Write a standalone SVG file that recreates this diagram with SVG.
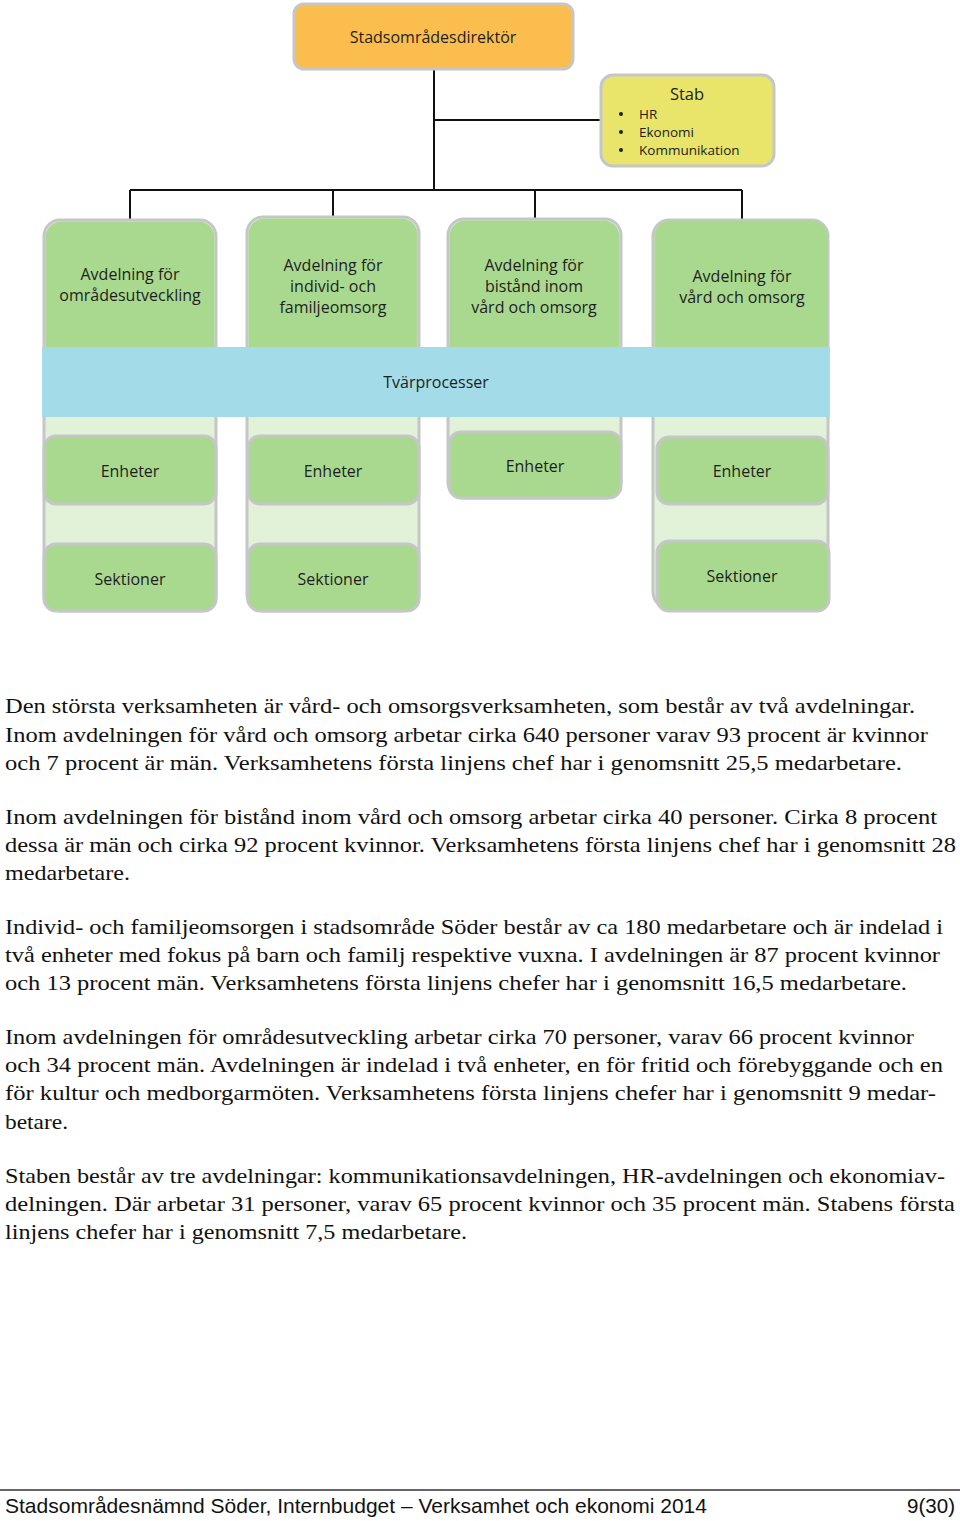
<svg xmlns="http://www.w3.org/2000/svg" width="960" height="1521" viewBox="0 0 960 1521">
<style>
.box{stroke:#c5c6c8;stroke-width:3}
.org{fill:#fbbe4e}
.stab{fill:#e8e56a}
.grn{fill:#a9d98f}
.lt{fill:#e2f2d9}
.band{fill:#a3dce8}
.lbl{font-family:"Open Sans","Noto Sans",sans-serif;font-size:16px;fill:#1e1e1e;text-anchor:middle}
.sm{font-family:"Open Sans","Noto Sans",sans-serif;font-size:13.5px;fill:#1e1e1e}
.con{stroke:#111;stroke-width:2;fill:none}
.body{font-family:"Liberation Serif","Times New Roman",serif;font-size:21px;fill:#111}
.foot{font-family:"Liberation Sans",Arial,sans-serif;font-size:21px;fill:#111}
</style>
<rect width="960" height="1521" fill="#fff"/>
<g id="connectors">
<path class="con" d="M434 70V190M434 120H600M130 190H742M130 190V220M333 190V217M535 190V219M742 190V219"/>
</g>
<g id="director">
<rect class="box org" x="294" y="4" width="279" height="65" rx="10"/>
<text class="lbl" x="433" y="43">Stadsområdesdirektör</text>
</g>
<g id="stab">
<rect class="box stab" x="601" y="75" width="173" height="91" rx="12"/>
<text class="lbl" x="687" y="100" style="font-size:16.5px">Stab</text>
<g class="sm">
<circle cx="621" cy="114" r="2" fill="#1e1e1e"/>
<circle cx="621" cy="132" r="2" fill="#1e1e1e"/>
<circle cx="621" cy="150" r="2" fill="#1e1e1e"/>
<text x="639" y="119">HR</text>
<text x="639" y="137">Ekonomi</text>
<text x="639" y="155">Kommunikation</text>
</g>
</g>
<g id="col1">
<rect class="box lt" x="44" y="220" width="172" height="391" rx="16"/>
<path class="grn" d="M45.5 347V238a16 16 0 0 1 16-16.5h137a16 16 0 0 1 16 16.5V347z"/>
<text class="lbl" x="130" y="280">Avdelning för</text>
<text class="lbl" x="130" y="301">områdesutveckling</text>
</g>
<g id="col2">
<rect class="box lt" x="247" y="217" width="172" height="394" rx="16"/>
<path class="grn" d="M248.5 347V235a16 16 0 0 1 16-16.5h137a16 16 0 0 1 16 16.5V347z"/>
<text class="lbl" x="333" y="271">Avdelning för</text>
<text class="lbl" x="333" y="292">individ- och</text>
<text class="lbl" x="333" y="313">familjeomsorg</text>
</g>
<g id="col3">
<rect class="box lt" x="448" y="219" width="173" height="279" rx="16"/>
<path class="grn" d="M449.5 347V237a16 16 0 0 1 16-16.5h138a16 16 0 0 1 16 16.5V347z"/>
<text class="lbl" x="534" y="271">Avdelning för</text>
<text class="lbl" x="534" y="292">bistånd inom</text>
<text class="lbl" x="534" y="313">vård och omsorg</text>
</g>
<g id="col4">
<rect class="box lt" x="653" y="220" width="175" height="388" rx="16"/>
<path class="grn" d="M654.5 347V237a16 16 0 0 1 16-16.5h141a16 16 0 0 1 16 16.5V347z"/>
<text class="lbl" x="742" y="282">Avdelning för</text>
<text class="lbl" x="742" y="303">vård och omsorg</text>
</g>
<g id="tvarprocesser">
<rect class="band" x="42" y="347" width="788" height="70"/>
<text class="lbl" x="436" y="388">Tvärprocesser</text>
</g>
<g id="enheter1">
<rect class="box grn" x="44" y="436" width="172" height="68" rx="12"/>
<text class="lbl" x="130" y="477">Enheter</text>
</g>
<g id="sektioner1">
<rect class="box grn" x="44" y="544" width="172" height="67" rx="12"/>
<text class="lbl" x="130" y="585">Sektioner</text>
</g>
<g id="enheter2">
<rect class="box grn" x="248" y="436" width="171" height="68" rx="12"/>
<text class="lbl" x="333" y="477">Enheter</text>
</g>
<g id="sektioner2">
<rect class="box grn" x="248" y="544" width="171" height="67" rx="12"/>
<text class="lbl" x="333" y="585">Sektioner</text>
</g>
<g id="enheter3">
<rect class="box grn" x="449" y="432" width="172" height="66" rx="12"/>
<text class="lbl" x="535" y="472">Enheter</text>
</g>
<g id="enheter4">
<rect class="box grn" x="657" y="437" width="171" height="67" rx="12"/>
<text class="lbl" x="742" y="477">Enheter</text>
</g>
<g id="sektioner4">
<rect class="box grn" x="657" y="541" width="172" height="70" rx="12"/>
<text class="lbl" x="742" y="582">Sektioner</text>
</g>
<g id="text" class="body">
<text x="5" y="713" textLength="910" lengthAdjust="spacingAndGlyphs">Den största verksamheten är vård- och omsorgsverksamheten, som består av två avdelningar.</text>
<text x="5" y="742" textLength="923" lengthAdjust="spacingAndGlyphs">Inom avdelningen för vård och omsorg arbetar cirka 640 personer varav 93 procent är kvinnor</text>
<text x="5" y="770" textLength="897" lengthAdjust="spacingAndGlyphs">och 7 procent är män. Verksamhetens första linjens chef har i genomsnitt 25,5 medarbetare.</text>
<text x="5" y="824" textLength="932" lengthAdjust="spacingAndGlyphs">Inom avdelningen för bistånd inom vård och omsorg arbetar cirka 40 personer. Cirka 8 procent</text>
<text x="5" y="852" textLength="951" lengthAdjust="spacingAndGlyphs">dessa är män och cirka 92 procent kvinnor. Verksamhetens första linjens chef har i genomsnitt 28</text>
<text x="5" y="880" textLength="125" lengthAdjust="spacingAndGlyphs">medarbetare.</text>
<text x="5" y="934" textLength="938" lengthAdjust="spacingAndGlyphs">Individ- och familjeomsorgen i stadsområde Söder består av ca 180 medarbetare och är indelad i</text>
<text x="5" y="962" textLength="935" lengthAdjust="spacingAndGlyphs">två enheter med fokus på barn och familj respektive vuxna. I avdelningen är 87 procent kvinnor</text>
<text x="5" y="990" textLength="902" lengthAdjust="spacingAndGlyphs">och 13 procent män. Verksamhetens första linjens chefer har i genomsnitt 16,5 medarbetare.</text>
<text x="5" y="1044" textLength="909" lengthAdjust="spacingAndGlyphs">Inom avdelningen för områdesutveckling arbetar cirka 70 personer, varav 66 procent kvinnor</text>
<text x="5" y="1072" textLength="938" lengthAdjust="spacingAndGlyphs">och 34 procent män. Avdelningen är indelad i två enheter, en för fritid och förebyggande och en</text>
<text x="5" y="1100" textLength="931" lengthAdjust="spacingAndGlyphs">för kultur och medborgarmöten. Verksamhetens första linjens chefer har i genomsnitt 9 medar-</text>
<text x="5" y="1129" textLength="63" lengthAdjust="spacingAndGlyphs">betare.</text>
<text x="5" y="1183" textLength="940" lengthAdjust="spacingAndGlyphs">Staben består av tre avdelningar: kommunikationsavdelningen, HR-avdelningen och ekonomiav-</text>
<text x="5" y="1211" textLength="950" lengthAdjust="spacingAndGlyphs">delningen. Där arbetar 31 personer, varav 65 procent kvinnor och 35 procent män. Stabens första</text>
<text x="5" y="1239" textLength="462" lengthAdjust="spacingAndGlyphs">linjens chefer har i genomsnitt 7,5 medarbetare.</text>
</g>
<g id="footer">
<line x1="0" y1="1490" x2="960" y2="1490" stroke="#333" stroke-width="1.5"/>
<text class="foot" x="5" y="1513" textLength="702" lengthAdjust="spacingAndGlyphs">Stadsområdesnämnd Söder, Internbudget – Verksamhet och ekonomi 2014</text>
<text class="foot" x="955" y="1513" text-anchor="end" textLength="48" lengthAdjust="spacingAndGlyphs">9(30)</text>
</g>
</svg>
